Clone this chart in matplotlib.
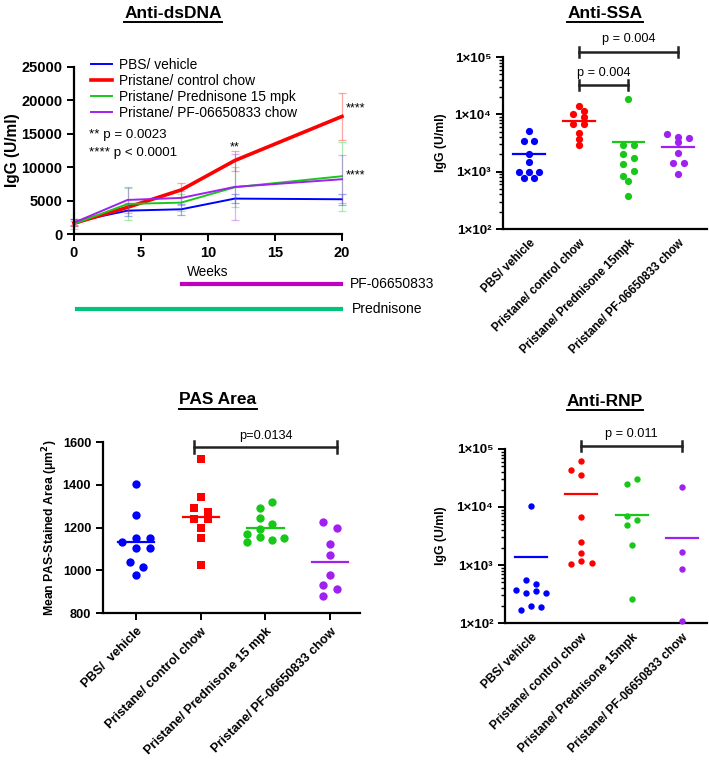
import numpy as np
import matplotlib
matplotlib.use("Agg")
import matplotlib.pyplot as plt
from matplotlib.lines import Line2D

plt.rcParams['font.family'] = ['Liberation Sans', 'DejaVu Sans']

W, H = 709, 762

BLUE = '#0000ff'
RED = '#ff0000'
GREEN = '#18c818'
PURPLE = '#a020f0'

# ---- Anti-dsDNA time course ----
weeks = [0, 4, 8, 12, 20]
ds_pbs = [1800, 3500, 3700, 5300, 5200]
ds_pbs_err = [500, 800, 800, 700, 800]
ds_ctrl = [1600, 4000, 6600, 11000, 17600]
ds_ctrl_err = [400, 600, 1000, 1500, 3550]
ds_pred = [1500, 4500, 4700, 7000, 8650]
ds_pred_err = [700, 2400, 1300, 3000, 5150]
ds_pf = [1700, 5100, 5400, 7050, 8200]
ds_pf_err = [500, 2000, 1000, 5000, 3600]
series_labels = ['PBS/ vehicle', 'Pristane/ control chow',
                 'Pristane/ Prednisone 15 mpk', 'Pristane/ PF-06650833 chow']

# ---- Anti-SSA (U/ml) ----
ssa_pbs = [5100, 3400, 3400, 2000, 1470, 1000, 1000, 1000, 770, 770]
ssa_pbs_dx = [0, -0.11, 0.11, 0, 0, -0.21, 0, 0.21, -0.11, 0.11]
ssa_ctrl = [14100, 11500, 10300, 8900, 6700, 6700, 4700, 3700, 2900]
ssa_ctrl_dx = [0, 0.11, -0.11, 0.11, -0.11, 0.11, 0, 0, 0]
ssa_pred = [18600, 2950, 2950, 2050, 1740, 1380, 1020, 850, 690, 380]
ssa_pred_dx = [0, -0.11, 0.11, -0.11, 0.11, -0.11, 0.11, -0.11, 0, 0]
ssa_pf = [4520, 4050, 3850, 3230, 2080, 1430, 1430, 920]
ssa_pf_dx = [-0.22, 0, 0.22, 0, 0, -0.11, 0.11, 0]
ssa_means = [2000, 7750, 3250, 2700]
ssa_labels = ['PBS/ vehicle', 'Pristane/ control chow',
              'Pristane/ Prednisone 15mpk', 'Pristane/ PF-06650833 chow']

# ---- PAS area (um^2) ----
pas_pbs = [1403, 1257, 1132, 1151, 1151, 1106, 1106, 1039, 1016, 978]
pas_pbs_dx = [0, 0, -0.21, 0, 0.21, 0, 0.21, -0.10, 0.11, 0]
pas_ctrl = [1522, 1344, 1293, 1272, 1238, 1238, 1196, 1149, 1025]
pas_ctrl_dx = [0, 0, -0.10, 0.11, -0.10, 0.11, 0, 0, 0]
pas_pred = [1319, 1291, 1246, 1215, 1194, 1171, 1152, 1155, 1141, 1130]
pas_pred_dx = [0.10, -0.09, -0.09, 0.10, -0.09, -0.28, 0.29, -0.09, 0.10, -0.28]
pas_pf = [1228, 1200, 1123, 1071, 978, 929, 912, 880]
pas_pf_dx = [-0.11, 0.10, 0, 0, 0, -0.11, 0.10, -0.11]
pas_means = [1134, 1250, 1200, 1040]
pas_labels = ['PBS/  vehicle', 'Pristane/ control chow',
              'Pristane/ Prednisone 15 mpk', 'Pristane/ PF-06650833 chow']

# ---- Anti-RNP (U/ml) ----
rnp_pbs = [10500, 550, 470, 365, 330, 350, 330, 165, 195, 190]
rnp_pbs_dx = [0, -0.1, 0.1, -0.3, -0.1, 0.1, 0.3, -0.2, 0, 0.2]
rnp_ctrl = [61000, 43500, 35000, 6600, 2500, 1600, 1030, 1170, 1100]
rnp_ctrl_dx = [0, -0.21, 0, 0, 0, 0, -0.21, 0, 0.21]
rnp_pred = [25000, 30000, 7100, 6000, 4900, 2180, 263]
rnp_pred_dx = [-0.1, 0.1, -0.1, 0.1, -0.1, 0, 0]
rnp_pf = [22000, 1660, 870, 110]
rnp_pf_dx = [0, 0, 0, 0]
rnp_means = [1380, 17000, 7400, 2900]

log_ticks = [100, 1000, 10000, 100000]
log_tick_labels = ['1×10²', '1×10³', '1×10⁴', '1×10⁵']


def px_rect(l, t, r, b):
    return [l / W, 1 - b / H, (r - l) / W, (b - t) / H]


def style_axes(ax, labelsize):
    for s in ['top', 'right']:
        ax.spines[s].set_visible(False)
    for s in ['left', 'bottom']:
        ax.spines[s].set_linewidth(1.6)
    ax.tick_params(width=1.4, length=5, labelsize=labelsize)
    for lab in ax.get_xticklabels() + ax.get_yticklabels():
        lab.set_fontweight('bold')


def dot_plot(ax, groups, offsets, colors, means, markers, ms, half=0.3):
    for i, (vals, dx, c, m) in enumerate(zip(groups, offsets, colors, markers)):
        xs = [i + 1 + d for d in dx]
        ax.plot(xs, vals, linestyle='none', marker=m, ms=ms, color=c,
                markeredgewidth=0, clip_on=False, zorder=3)
        ax.plot([i + 1 - half, i + 1 + half], [means[i], means[i]], color=c, lw=1.6)


def log_bracket(ax, x0, x1, y, text):
    ax.plot([x0, x1], [y, y], color='#222222', lw=1.8, clip_on=False)
    for x in (x0, x1):
        ax.plot([x, x], [y / 1.22, y * 1.22], color='#222222', lw=1.8, clip_on=False)
    ax.text((x0 + x1) / 2, y * 1.3, text, ha='center', va='bottom', fontsize=9.2)


def category_axis(ax, labels, fs, xlim, ticks_visible):
    ax.set_xlim(*xlim)
    ax.set_xticks([1, 2, 3, 4])
    ax.set_xticklabels(labels, rotation=45, ha='right', rotation_mode='anchor',
                       fontsize=fs, fontweight='bold')
    if ticks_visible:
        ax.tick_params(axis='x', pad=4)
    else:
        ax.tick_params(axis='x', length=0, pad=6)


colors = [BLUE, RED, GREEN, PURPLE]

fig = plt.figure(figsize=(W / 100, H / 100), dpi=100)

# ================= Anti-dsDNA =================
ax1 = fig.add_axes(px_rect(74, 67, 342, 234))
series = [(ds_pbs, ds_pbs_err, BLUE, 1.4), (ds_ctrl, ds_ctrl_err, RED, 2.6),
          (ds_pred, ds_pred_err, GREEN, 1.4), (ds_pf, ds_pf_err, PURPLE, 1.4)]
for (vals, err, c, lw), lab in zip(series, series_labels):
    ax1.errorbar(weeks, vals, yerr=err, fmt='none', ecolor=c, alpha=0.35,
                 elinewidth=0.9, capsize=3, capthick=0.9, clip_on=False)
    ax1.plot(weeks, vals, color=c, lw=lw, label=lab, clip_on=False)
ax1.set_xlim(0, 20)
ax1.set_ylim(0, 25000)
ax1.set_xticks([0, 5, 10, 15, 20])
ax1.set_yticks([0, 5000, 10000, 15000, 20000, 25000])
ax1.set_ylabel('IgG (U/ml)', fontsize=11.2, fontweight='bold')
ax1.yaxis.set_label_coords(-0.2, 0.5)
style_axes(ax1, 10.5)
ax1.legend(loc='upper left', bbox_to_anchor=(84 / W, 1 - 51 / H),
           bbox_transform=fig.transFigure, frameon=False, fontsize=9.9,
           handlelength=1.5, handletextpad=0.55, labelspacing=0.14, borderpad=0)
ax1.text(12, 12100, '**', ha='center', va='bottom', fontsize=9)
fig.text(355 / W, 1 - 108 / H, '****', ha='center', va='center', fontsize=9)
fig.text(355 / W, 1 - 175 / H, '****', ha='center', va='center', fontsize=9)
fig.text(89 / W, 1 - 135 / H, '** p = 0.0023', ha='left', va='center', fontsize=9.6)
fig.text(89 / W, 1 - 153 / H, '**** p < 0.0001', ha='left', va='center', fontsize=9.6)
fig.text(208 / W, 1 - 272 / H, 'Weeks', ha='center', va='center', fontsize=9.8)
fig.add_artist(Line2D([182 / W, 341 / W], [1 - 284 / H] * 2, color='#c000c0', lw=3))
fig.text(350 / W, 1 - 284 / H, 'PF-06650833', ha='left', va='center', fontsize=10)
fig.add_artist(Line2D([77 / W, 341 / W], [1 - 309 / H] * 2, color='#00c47a', lw=3))
fig.text(352 / W, 1 - 309 / H, 'Prednisone', ha='left', va='center', fontsize=10)

# ================= Anti-SSA =================
ax2 = fig.add_axes(px_rect(503, 57, 707, 229))
dot_plot(ax2, [ssa_pbs, ssa_ctrl, ssa_pred, ssa_pf],
         [ssa_pbs_dx, ssa_ctrl_dx, ssa_pred_dx, ssa_pf_dx],
         colors, ssa_means, ['o'] * 4, 5.2, half=0.32)
ax2.set_yscale('log')
ax2.set_ylim(100, 100000)
ax2.set_yticks(log_ticks)
ax2.set_yticklabels(log_tick_labels)
ax2.set_ylabel('IgG (U/ml)', fontsize=8.8, fontweight='bold')
ax2.yaxis.set_label_coords(-0.275, 0.5)
style_axes(ax2, 9.6)
category_axis(ax2, ssa_labels, 8.4, (0.477, 4.58), False)
ax2.tick_params(axis='y', which='minor', length=3, width=1.0)
log_bracket(ax2, 2, 4, 1.23e5, 'p = 0.004')
log_bracket(ax2, 2, 3, 3.2e4, 'p = 0.004')

# ================= PAS Area =================
ax3 = fig.add_axes(px_rect(103, 442, 360, 613))
dot_plot(ax3, [pas_pbs, pas_ctrl, pas_pred, pas_pf],
         [pas_pbs_dx, pas_ctrl_dx, pas_pred_dx, pas_pf_dx],
         colors, pas_means, ['o', 's', 'o', 'o'], 6.0, half=0.28)
ax3.set_ylim(800, 1600)
ax3.set_yticks([800, 1000, 1200, 1400, 1600])
ax3.set_ylabel('Mean PAS-Stained Area (μm$^\\mathbf{2}$)', fontsize=8.8,
               fontweight='bold')
ax3.yaxis.set_label_coords(-0.167, 0.5)
style_axes(ax3, 9.2)
category_axis(ax3, pas_labels, 9.2, (0.49, 4.46), True)
ax3.plot([1.9, 4.1], [1578, 1578], color='#222222', lw=1.8, clip_on=False)
for x in (1.9, 4.1):
    ax3.plot([x, x], [1550, 1606], color='#222222', lw=1.8, clip_on=False)
ax3.text(3.0, 1600, 'p=0.0134', ha='center', va='bottom', fontsize=9.2)

# ================= Anti-RNP =================
ax4 = fig.add_axes(px_rect(505, 449, 707, 623))
dot_plot(ax4, [rnp_pbs, rnp_ctrl, rnp_pred, rnp_pf],
         [rnp_pbs_dx, rnp_ctrl_dx, rnp_pred_dx, rnp_pf_dx],
         colors, rnp_means, ['o'] * 4, 4.6, half=0.32)
ax4.set_yscale('log')
ax4.set_ylim(100, 100000)
ax4.set_yticks(log_ticks)
ax4.set_yticklabels(log_tick_labels)
ax4.set_ylabel('IgG (U/ml)', fontsize=8.8, fontweight='bold')
ax4.yaxis.set_label_coords(-0.287, 0.5)
style_axes(ax4, 9.6)
category_axis(ax4, ssa_labels, 8.7, (0.48, 4.5), False)
ax4.tick_params(axis='y', which='minor', length=3, width=1.0)
log_bracket(ax4, 2, 4, 1.12e5, 'p = 0.011')

# ================= Titles (underlined) =================
titles = [('Anti-dsDNA', 173, 13), ('Anti-SSA', 605, 13),
          ('PAS Area', 218, 400), ('Anti-RNP', 605, 402)]
title_objs = [fig.text(cx / W, 1 - cy / H, t, ha='center', va='center',
                       fontsize=12.5, fontweight='bold') for t, cx, cy in titles]
fig.canvas.draw()
r = fig.canvas.get_renderer()
for t in title_objs:
    bb = t.get_window_extent(r)
    yline = (bb.y0 - 1.0) / H
    fig.add_artist(Line2D([bb.x0 / W, bb.x1 / W], [yline, yline], color='black', lw=1.4))

fig.savefig('out.png', dpi=100)
